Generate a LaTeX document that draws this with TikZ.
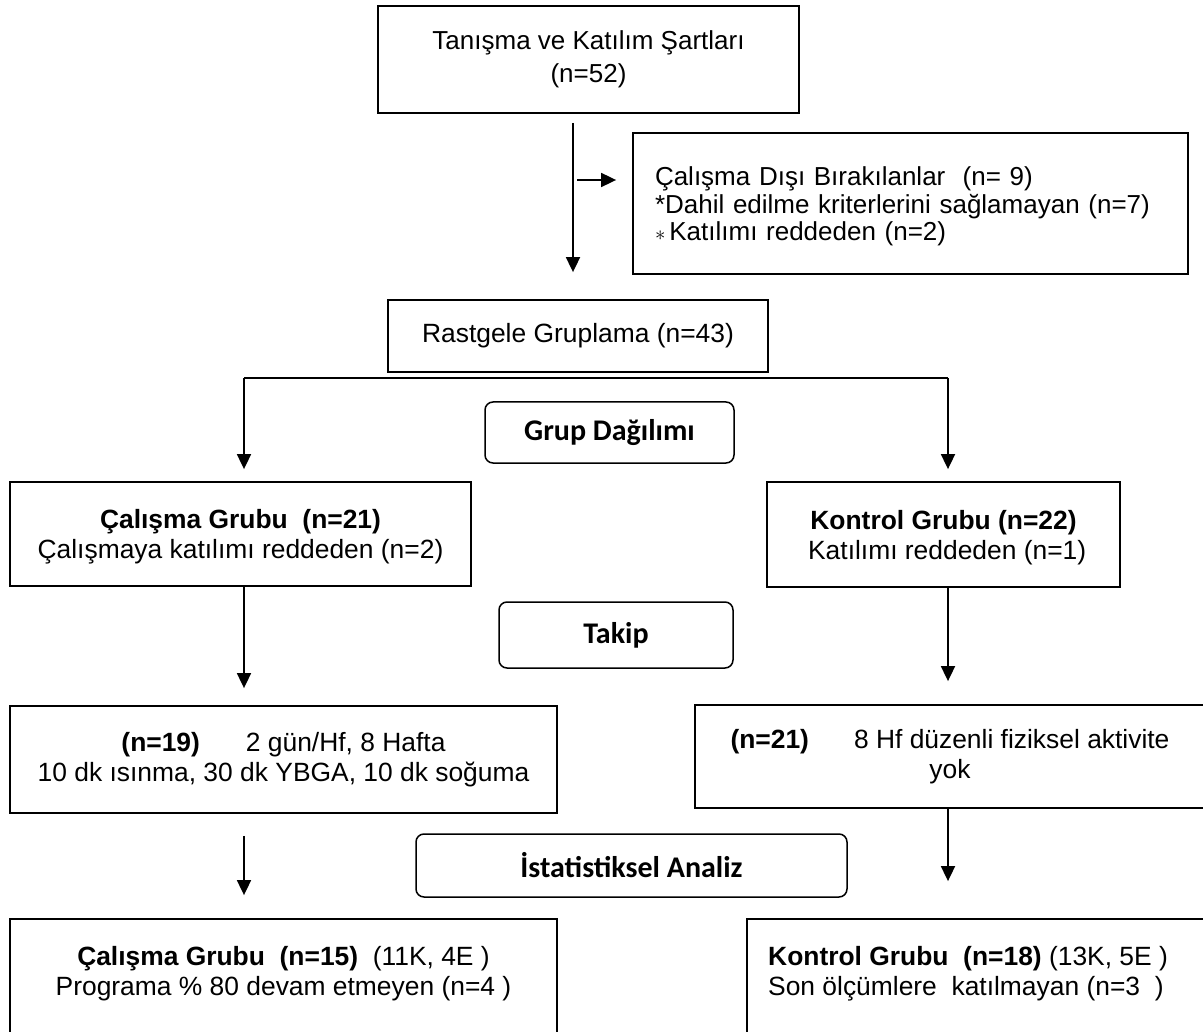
\documentclass[tikz,border=0pt]{standalone}
\usepackage{fontspec}
\setmainfont{Liberation Sans}
\newfontfamily\headfont{Carlito}
\usetikzlibrary{arrows.meta}
\tikzset{box/.style = {draw, line width = 1.8, inner sep = 0, align = center, font = \fontsize{26.4}{29.5}\selectfont}}
\tikzset{rbox/.style = {draw, rounded corners = 8, line width = 1.5, inner sep = 0, font = \headfont\bfseries\fontsize{30}{34}\selectfont}}
\tikzset{txt/.style = {inner sep = 0, align = center, font = \fontsize{26.4}{30}\selectfont}}
\tikzset{arr/.style = {line width = 1.8, -{Triangle[length = 15pt, width = 14pt]}}}

\begin{document}
\begin{tikzpicture}[x = 1pt, y = -1pt]
      \useasboundingbox (0, 0) rectangle (1203, 1032);
      \clip (0, 0) rectangle (1203, 1032);

      \node [box, minimum width = 421, minimum height = 107, font = \fontsize{26}{33}\selectfont] (top) at (588.5, 59.5) {Tanışma ve Katılım Şartları\\(n=52)};
      \node [box, minimum width = 555, minimum height = 141, text width = 511pt, align = left, font = \fontsize{26}{27.5}\selectfont] (excl) at (910.5, 203.5)
        {\rule{0pt}{25pt}Çalışma Dışı Bırakılanlar~ (n= 9)\\{}*Dahil edilme kriterlerini sağlamayan (n=7)\\{\fontsize{20}{20}\selectfont$\ast$}\hspace{4pt}Katılımı reddeden (n=2)};
      \node [box, minimum width = 380, minimum height = 72] (rand) at (578, 336) {Rastgele Gruplama (n=43)};
      \node [rbox, minimum width = 249, minimum height = 61] (grp) at (609.5, 432.5) {Grup Dağılımı};

      \node [box, minimum width = 461, minimum height = 104] (cgrp1) at (240.5, 534) {\rule{0pt}{25pt}\textbf{Çalışma Grubu~ (n=21)}\\Çalışmaya katılımı reddeden (n=2)};
      \node [box, minimum width = 353, minimum height = 105] (kgrp1) at (943.5, 534.5) {\rule{0pt}{25pt}\textbf{Kontrol Grubu (n=22)}\\~Katılımı reddeden (n=1)};
      \node [rbox, minimum width = 234, minimum height = 66] (takip) at (616, 635) {Takip};

      \node [box, minimum width = 547, minimum height = 107] (train) at (283.5, 759.5) {\textbf{(n=19)}\hspace{46pt}2 gün/Hf, 8 Hafta\\10 dk ısınma, 30 dk YBGA, 10 dk soğuma};
      \node [box, minimum width = 510, minimum height = 103] (ctrl) at (950, 756.5) {\textbf{(n=21)}\hspace{45pt}8 Hf düzenli fiziksel aktivite\\yok};
      \node [rbox, minimum width = 431, minimum height = 63] (stat) at (631.5, 865.5) {İstatistiksel Analiz};

      \node [box, minimum width = 547, minimum height = 181] (cgrp2) at (283.5, 1009.5) {};
      \node [txt] (cgrp2t) at (283.5, 974) {\textbf{Çalışma Grubu~ (n=15)}~ (11K, 4E )\\Programa \% 80 devam etmeyen (n=4 )};
      \node [box, minimum width = 503, minimum height = 181] (kgrp2) at (998.5, 1009.5) {};
      \node [txt, anchor = west, align = left] (kgrp2t) at (768, 974) {\textbf{Kontrol Grubu~ (n=18)} (13K, 5E )\\Son ölçümlere~ katılmayan (n=3~ )};

      \coordinate (trunk) at (573, 0);
      \coordinate (branch) at (577, 180);
      \coordinate (lsplit) at (244, 378);
      \coordinate (rsplit) at (948, 378);

      \draw [arr, shorten <= 9pt, shorten >= 27pt] (top.south -| trunk) -- (rand.north -| trunk);
      \draw [arr, shorten >= 16pt] (branch) -- (branch -| excl.west);
      \draw [line width = 1.8] (lsplit) -- (rsplit);
      \draw [arr, shorten >= 12pt] (lsplit) -- (lsplit |- cgrp1.north);
      \draw [arr, shorten >= 12pt] (rsplit) -- (rsplit |- kgrp1.north);
      \draw [arr, shorten >= 17pt] (cgrp1.south -| lsplit) -- (lsplit |- train.north);
      \draw [arr, shorten >= 23pt] (kgrp1.south -| rsplit) -- (rsplit |- ctrl.north);
      \draw [arr, shorten <= 22pt, shorten >= 23pt] (train.south -| lsplit) -- (lsplit |- cgrp2.north);
      \draw [arr, shorten >= 37pt] (ctrl.south -| rsplit) -- (rsplit |- kgrp2.north);
    \end{tikzpicture}
\end{document}
